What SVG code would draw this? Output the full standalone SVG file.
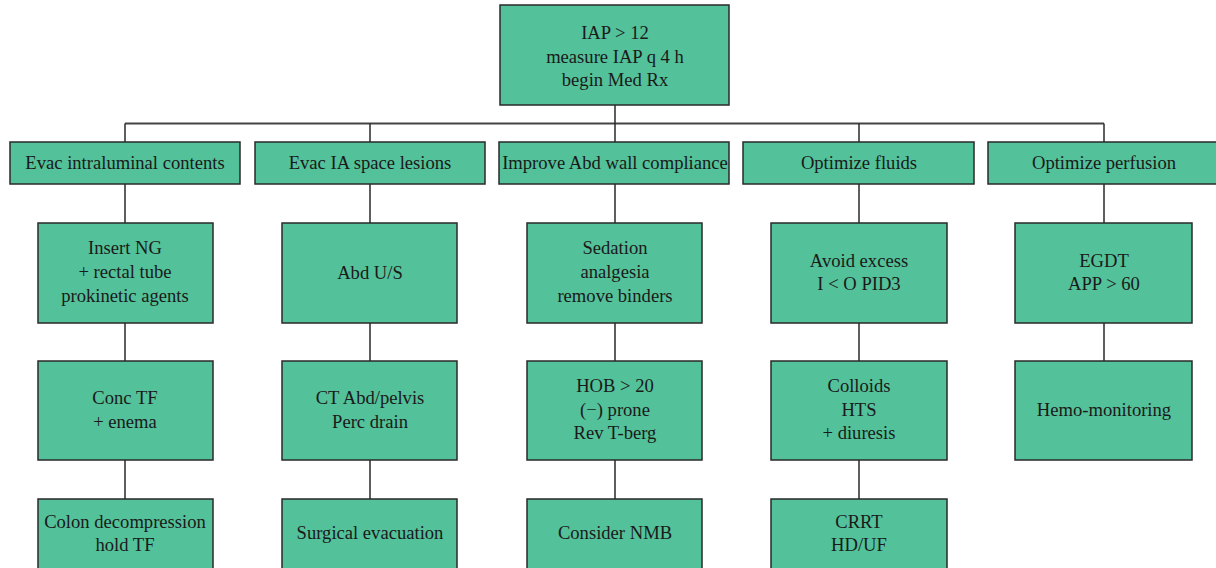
<svg xmlns="http://www.w3.org/2000/svg" width="1216" height="568" viewBox="0 0 1216 568">
<style>
.box{fill:#53c199;stroke:#2a2a2a;stroke-width:1.5}
.t{font-family:"Liberation Serif","Times New Roman",serif;font-size:18.6px;fill:#1a1a1a;text-anchor:middle}
.ln{stroke:#2a2a2a;stroke-width:1.5;fill:none}
.bus{stroke:#444;stroke-width:2;fill:none}
</style>
<rect width="1216" height="568" fill="#fff"/>
<g id="connectors">
<path class="bus" d="M125 123.5H1104"/>
<path class="ln" d="M615 105V123.5M125 123.5V142M370 123.5V142M615 123.5V142M859 123.5V142M1104 123.5V142"/>
<path class="ln" d="M125 184V223M370 184V223M615 184V223M859 184V223M1104 184V223"/>
<path class="ln" d="M125 323V361M370 323V361M615 323V361M859 323V361M1104 323V361"/>
<path class="ln" d="M125 460V499M370 460V499M615 460V499M859 460V499"/>
</g>
<g id="top"><rect class="box" x="500" y="5" width="229" height="100"/>
<text class="t" x="615" y="39">IAP &gt; 12</text><text class="t" x="615" y="63">measure IAP q 4 h</text><text class="t" x="615" y="86">begin Med Rx</text></g>
<g id="h1"><rect class="box" x="10" y="142" width="230" height="42"/><text class="t" x="125" y="169">Evac intraluminal contents</text></g>
<g id="h2"><rect class="box" x="255" y="142" width="230" height="42"/><text class="t" x="370" y="169">Evac IA space lesions</text></g>
<g id="h3"><rect class="box" x="499" y="142" width="230" height="42"/><text class="t" x="615" y="169">Improve Abd wall compliance</text></g>
<g id="h4"><rect class="box" x="743" y="142" width="231" height="42"/><text class="t" x="859" y="169">Optimize fluids</text></g>
<g id="h5"><rect class="box" x="988" y="142" width="232" height="42"/><text class="t" x="1104" y="169">Optimize perfusion</text></g>

<g id="c1r1"><rect class="box" x="38" y="223" width="175" height="100"/>
<text class="t" x="125" y="254">Insert NG</text><text class="t" x="125" y="278">+ rectal tube</text><text class="t" x="125" y="302">prokinetic agents</text></g>
<g id="c2r1"><rect class="box" x="282" y="223" width="175" height="100"/><text class="t" x="370" y="279">Abd U/S</text></g>
<g id="c3r1"><rect class="box" x="527" y="223" width="175" height="100"/>
<text class="t" x="615" y="254">Sedation</text><text class="t" x="615" y="278">analgesia</text><text class="t" x="615" y="302">remove binders</text></g>
<g id="c4r1"><rect class="box" x="771" y="223" width="176" height="100"/>
<text class="t" x="859" y="267">Avoid excess</text><text class="t" x="859" y="290">I &lt; O PID3</text></g>
<g id="c5r1"><rect class="box" x="1015" y="223" width="177" height="100"/>
<text class="t" x="1104" y="267">EGDT</text><text class="t" x="1104" y="290">APP &gt; 60</text></g>

<g id="c1r2"><rect class="box" x="38" y="361" width="175" height="99"/>
<text class="t" x="125" y="404">Conc TF</text><text class="t" x="125" y="428">+ enema</text></g>
<g id="c2r2"><rect class="box" x="282" y="361" width="175" height="99"/>
<text class="t" x="370" y="404">CT Abd/pelvis</text><text class="t" x="370" y="428">Perc drain</text></g>
<g id="c3r2"><rect class="box" x="527" y="361" width="175" height="99"/>
<text class="t" x="615" y="392">HOB &gt; 20</text><text class="t" x="615" y="416">(−) prone</text><text class="t" x="615" y="439">Rev T-berg</text></g>
<g id="c4r2"><rect class="box" x="771" y="361" width="176" height="99"/>
<text class="t" x="859" y="392">Colloids</text><text class="t" x="859" y="416">HTS</text><text class="t" x="859" y="439">+ diuresis</text></g>
<g id="c5r2"><rect class="box" x="1015" y="361" width="177" height="99"/><text class="t" x="1104" y="416">Hemo-monitoring</text></g>

<g id="c1r3"><rect class="box" x="38" y="499" width="175" height="73"/>
<text class="t" x="125" y="528">Colon decompression</text><text class="t" x="125" y="551">hold TF</text></g>
<g id="c2r3"><rect class="box" x="282" y="499" width="175" height="73"/><text class="t" x="370" y="539">Surgical evacuation</text></g>
<g id="c3r3"><rect class="box" x="527" y="499" width="175" height="73"/><text class="t" x="615" y="539">Consider NMB</text></g>
<g id="c4r3"><rect class="box" x="771" y="499" width="176" height="73"/>
<text class="t" x="859" y="528">CRRT</text><text class="t" x="859" y="551">HD/UF</text></g>
</svg>
